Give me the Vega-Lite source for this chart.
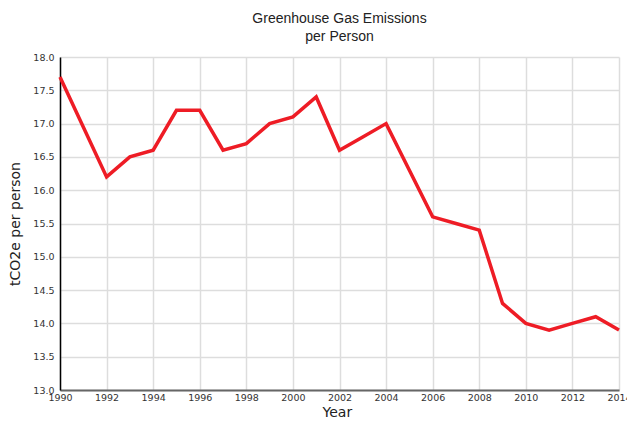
{
  "$schema": "https://vega.github.io/schema/vega-lite/v6.json",
  "width": 559,
  "height": 333,
  "autosize": {"type": "none"},
  "padding": {"left": 60, "top": 57, "right": 8, "bottom": 44},
  "background": "white",
  "title": {
    "text": ["Greenhouse Gas Emissions", "per Person"],
    "font": "Liberation Sans",
    "fontSize": 14,
    "fontWeight": "normal",
    "color": "#222222",
    "lineHeight": 18,
    "anchor": "middle",
    "offset": 8
  },
  "config": {
    "view": {"stroke": null},
    "axis": {
      "labelFont": "DejaVu Sans",
      "labelFontSize": 9.5,
      "labelColor": "#333333",
      "titleFont": "DejaVu Sans",
      "titleFontSize": 14,
      "titleFontWeight": "normal",
      "titleColor": "#222222",
      "gridColor": "#dddddd",
      "gridWidth": 1.5,
      "ticks": false
    }
  },
  "data": {
    "values": [
      {"Year": 1990, "value": 17.7},
      {"Year": 1991, "value": 16.95},
      {"Year": 1992, "value": 16.2},
      {"Year": 1993, "value": 16.5},
      {"Year": 1994, "value": 16.6},
      {"Year": 1995, "value": 17.2},
      {"Year": 1996, "value": 17.2},
      {"Year": 1997, "value": 16.6},
      {"Year": 1998, "value": 16.7},
      {"Year": 1999, "value": 17.0},
      {"Year": 2000, "value": 17.1},
      {"Year": 2001, "value": 17.4},
      {"Year": 2002, "value": 16.6},
      {"Year": 2003, "value": 16.8},
      {"Year": 2004, "value": 17.0},
      {"Year": 2005, "value": 16.3},
      {"Year": 2006, "value": 15.6},
      {"Year": 2007, "value": 15.5},
      {"Year": 2008, "value": 15.4},
      {"Year": 2009, "value": 14.3},
      {"Year": 2010, "value": 14.0},
      {"Year": 2011, "value": 13.9},
      {"Year": 2012, "value": 14.0},
      {"Year": 2013, "value": 14.1},
      {"Year": 2014, "value": 13.9}
    ]
  },
  "mark": {"type": "line", "color": "#ee1c25", "strokeWidth": 3.5, "strokeJoin": "miter"},
  "encoding": {
    "x": {
      "field": "Year",
      "type": "quantitative",
      "scale": {"domain": [1990, 2014], "nice": false, "zero": false},
      "axis": {
        "title": "Year",
        "values": [1990, 1992, 1994, 1996, 1998, 2000, 2002, 2004, 2006, 2008, 2010, 2012, 2014],
        "format": "d",
        "labelPadding": 2,
        "labelFlush": false,
        "labelOverlap": false,
        "domainColor": "#666666",
        "domainWidth": 2,
        "titleAnchor": "start",
        "titleX": 262,
        "titlePadding": 4
      }
    },
    "y": {
      "field": "value",
      "type": "quantitative",
      "scale": {"domain": [13, 18], "nice": false, "zero": false},
      "axis": {
        "title": "tCO2e per person",
        "values": [13, 13.5, 14, 14.5, 15, 15.5, 16, 16.5, 17, 17.5, 18],
        "format": ".1f",
        "labelPadding": 6,
        "labelOverlap": false,
        "labelFlush": false,
        "domainColor": "#000000",
        "domainWidth": 1.5,
        "titlePadding": 10
      }
    }
  }
}
